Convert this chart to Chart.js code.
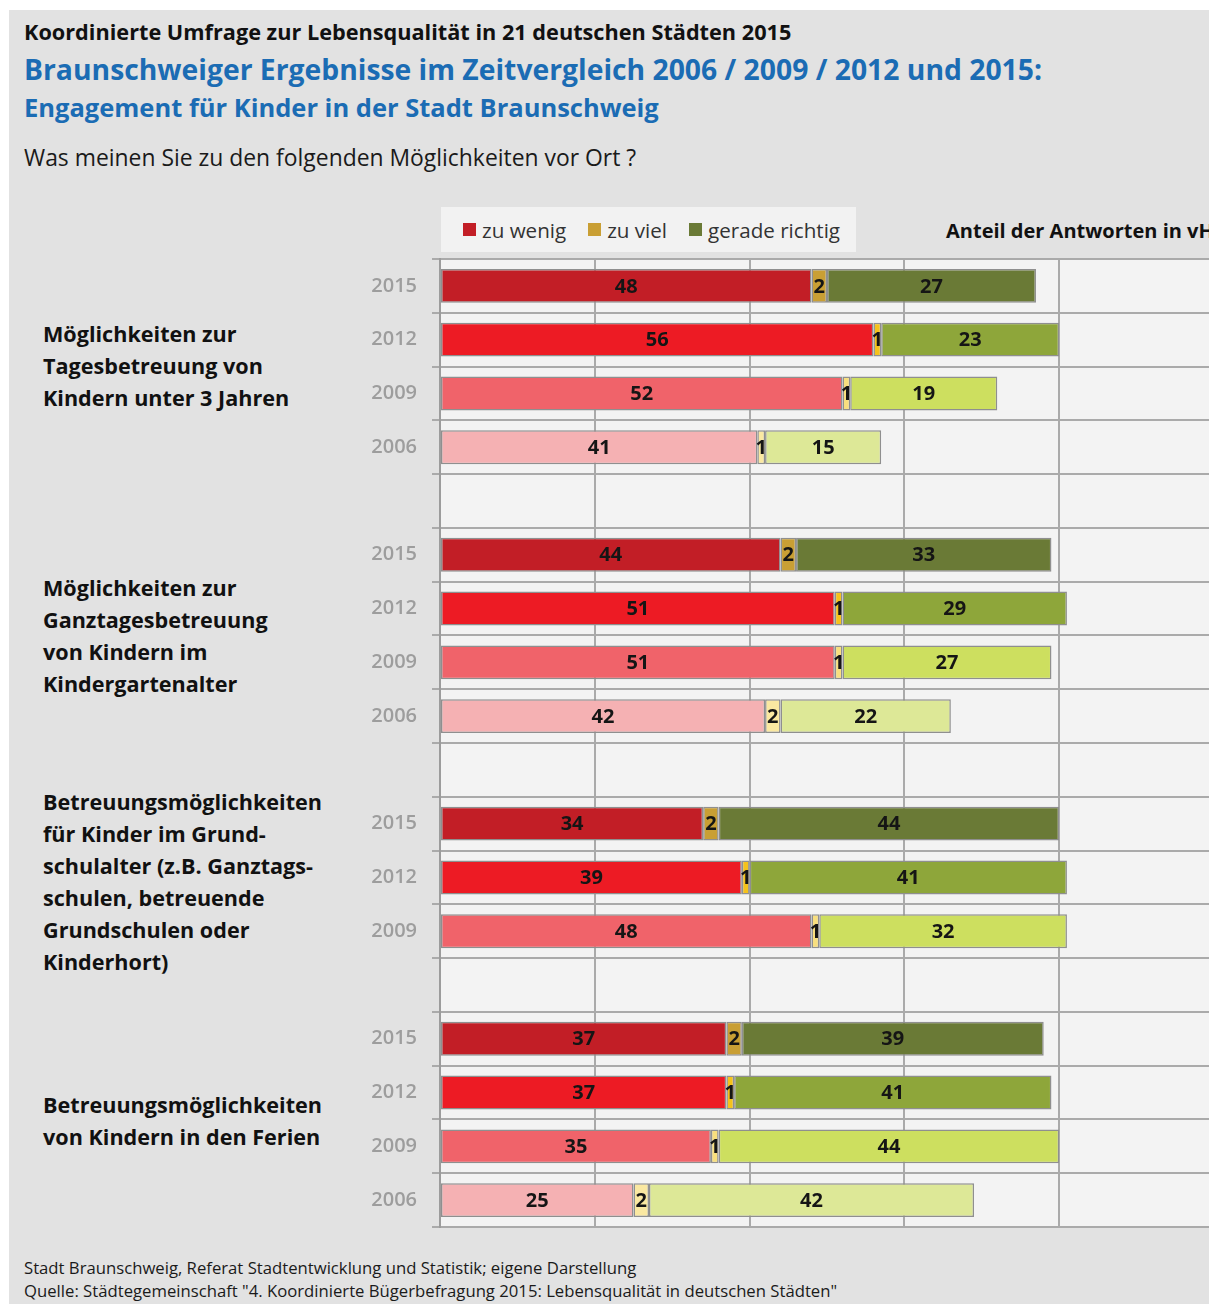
<!DOCTYPE html>
<html lang="de">
<head>
<meta charset="utf-8">
<title>Engagement für Kinder in der Stadt Braunschweig</title>
<script src="https://cdn.jsdelivr.net/npm/chart.js@4"></script>
<style>
  html, body { margin: 0; padding: 0; background: #fff; overflow: hidden; }
  body { width: 1209px; height: 1304px; position: relative; font-family: "Open Sans", sans-serif; }
  .panel { position: absolute; left: 9px; top: 10px; width: 1200px; height: 1294px; background: #e2e2e2; }
  .txt { position: absolute; white-space: nowrap; margin: 0; }
  .t1 { left: 24px; top: 17px; font-size: 21.7px; font-weight: 700; color: #111; }
  .t2 { left: 24px; top: 50px; font-size: 28.3px; font-weight: 700; color: #1b6cb4; }
  .t3 { left: 24px; top: 90px; font-size: 25.5px; font-weight: 700; color: #1b6cb4; }
  .t4 { left: 24px; top: 142px; font-size: 22.9px; color: #1a1a1a; }
  .group { position: absolute; left: 43px; font-size: 21.6px; font-weight: 700; line-height: 32px; color: #111; white-space: nowrap; }
  .legend { position: absolute; left: 441px; top: 207px; width: 415px; height: 45px; background: #f2f2f2;
            display: flex; align-items: center; font-size: 20.6px; color: #333; }
  .legend .item { display: flex; align-items: center; margin-left: 22px; }
  .legend .sw { width: 13px; height: 13px; margin-right: 6px; }
  .unit { left: 946px; top: 217px; font-size: 20px; font-weight: 700; color: #111; }
  .foot { left: 24px; font-size: 16.7px; color: #1a1a1a; }
  #chartBox { position: absolute; left: 340px; top: 258px; width: 874px; height: 971px; }
</style>
</head>
<body>
<div class="panel"></div>
<p class="txt t1">Koordinierte Umfrage zur Lebensqualität in 21 deutschen Städten 2015</p>
<p class="txt t2">Braunschweiger Ergebnisse im Zeitvergleich 2006 / 2009 / 2012 und 2015:</p>
<p class="txt t3">Engagement für Kinder in der Stadt Braunschweig</p>
<p class="txt t4">Was meinen Sie zu den folgenden Möglichkeiten vor Ort ?</p>
<div class="legend" id="legend"></div>
<p class="txt unit">Anteil der Antworten in vH</p>
<div id="groups"></div>
<div id="chartBox"><canvas id="chart"></canvas></div>
<p class="txt foot" style="top:1256px">Stadt Braunschweig, Referat Stadtentwicklung und Statistik; eigene Darstellung</p>
<p class="txt foot" style="top:1279px">Quelle: Städtegemeinschaft "4. Koordinierte Bügerbefragung 2015: Lebensqualität in deutschen Städten"</p>

<script>
const $ = (id) => document.getElementById(id);

// one row per bar, blank rows separate the four questions
const ROW_LABELS = [
  '2015', '2012', '2009', '2006', '',
  '2015', '2012', '2009', '2006', '',
  '2015', '2012', '2009', '',
  '2015', '2012', '2009', '2006',
];
const ZU_WENIG = [48, 56, 52, 41, null, 44, 51, 51, 42, null, 34, 39, 48, null, 37, 37, 35, 25];
const ZU_VIEL = [2, 1, 1, 1, null, 2, 1, 1, 2, null, 2, 1, 1, null, 2, 1, 1, 2];
const GERADE_RICHTIG = [27, 23, 19, 15, null, 33, 29, 27, 22, null, 44, 41, 32, null, 39, 41, 44, 42];

const SERIES_NAMES = ['zu wenig', 'zu viel', 'gerade richtig'];
const X_MIN = 0;
const X_MAX = 100;
const X_STEP = 20;

const GROUP_LABELS = [
  ['Möglichkeiten zur', 'Tagesbetreuung von', 'Kindern unter 3 Jahren'],
  ['Möglichkeiten zur', 'Ganztagesbetreuung', 'von Kindern im', 'Kindergartenalter'],
  ['Betreuungsmöglichkeiten', 'für Kinder im Grund-', 'schulalter (z.B. Ganztags-', 'schulen, betreuende', 'Grundschulen oder', 'Kinderhort)'],
  ['Betreuungsmöglichkeiten', 'von Kindern in den Ferien'],
];
const GROUP_TOPS = [318, 572, 786, 1089];

// shade per survey year, darkest = newest
const YEAR_COLORS = {
  'zu wenig': { 2015: '#c21e26', 2012: '#ed1b24', 2009: '#f0636a', 2006: '#f5b1b3' },
  'zu viel': { 2015: '#c99f34', 2012: '#f5c21b', 2009: '#f8df7e', 2006: '#fae8a1' },
  'gerade richtig': { 2015: '#6a7a36', 2012: '#8ea63a', 2009: '#cddf5f', 2006: '#dde897' },
};

const GRID = '#aaaaaa';

function rowColors(name) {
  return ROW_LABELS.map((y) => YEAR_COLORS[name][y] || 'transparent');
}

function renderLegend() {
  const box = $('legend');
  for (const name of SERIES_NAMES) {
    const item = document.createElement('span');
    item.className = 'item';
    const sw = document.createElement('span');
    sw.className = 'sw';
    sw.style.background = YEAR_COLORS[name][2015];
    item.append(sw, document.createTextNode(name));
    box.append(item);
  }
}

function renderGroups() {
  const wrap = $('groups');
  GROUP_LABELS.forEach((lines, i) => {
    const div = document.createElement('div');
    div.className = 'group';
    div.style.top = GROUP_TOPS[i] + 'px';
    div.innerHTML = lines.join('<br>');
    wrap.append(div);
  });
}

const plotBackground = {
  id: 'plotBackground',
  beforeDraw(chart) {
    const { ctx, chartArea: a } = chart;
    ctx.save();
    ctx.fillStyle = '#f3f3f3';
    ctx.fillRect(a.left, a.top, a.right - a.left, a.bottom - a.top);
    ctx.restore();
  },
};

// values centered on each segment
const barValues = {
  id: 'barValues',
  afterDatasetsDraw(chart) {
    const ctx = chart.ctx;
    ctx.save();
    ctx.font = 'bold 20px "Open Sans"';
    ctx.fillStyle = '#151515';
    ctx.textAlign = 'center';
    ctx.textBaseline = 'middle';
    chart.data.datasets.forEach((ds, di) => {
      chart.getDatasetMeta(di).data.forEach((el, i) => {
        const v = ds.data[i];
        if (v == null) return;
        const { x, base, y } = el.getProps(['x', 'base', 'y'], true);
        ctx.fillText(String(v), (x + base) / 2, y + 1);
      });
    });
    ctx.restore();
  },
};

function renderChart() {
  const values = [ZU_WENIG, ZU_VIEL, GERADE_RICHTIG];
  const datasets = SERIES_NAMES.map((name, i) => ({
    label: name,
    data: values[i],
    backgroundColor: rowColors(name),
    borderColor: '#8f8f8f',
    borderWidth: 1.5,
    borderSkipped: false,
    categoryPercentage: 1,
    barPercentage: 0.63,
  }));
  new Chart($('chart').getContext('2d'), {
    type: 'bar',
    data: { labels: ROW_LABELS, datasets },
    plugins: [plotBackground, barValues],
    options: {
      indexAxis: 'y',
      responsive: true,
      maintainAspectRatio: false,
      animation: false,
      layout: { padding: { top: 1, bottom: 2, left: 0, right: 0 } },
      plugins: { legend: { display: false }, tooltip: { enabled: false } },
      scales: {
        x: {
          stacked: true,
          min: X_MIN,
          max: X_MAX,
          ticks: { display: false, stepSize: X_STEP },
          grid: { color: GRID, lineWidth: 2, drawTicks: false },
          border: { display: true, color: GRID, width: 2 },
          afterFit(scale) { scale.height = 0; },
        },
        y: {
          stacked: true,
          ticks: { color: '#9d9d9d', font: { family: 'Open Sans', size: 20, weight: '600' }, padding: 15 },
          grid: { color: GRID, lineWidth: 2, tickLength: 8 },
          border: { display: true, color: '#9c9c9c', width: 2 },
          afterFit(scale) {
            scale.width = 100;
            scale.paddingTop = 0;
            scale.paddingBottom = 0;
          },
        },
      },
    },
  });
}

renderLegend();
renderGroups();
renderChart();
</script>
</body>
</html>
